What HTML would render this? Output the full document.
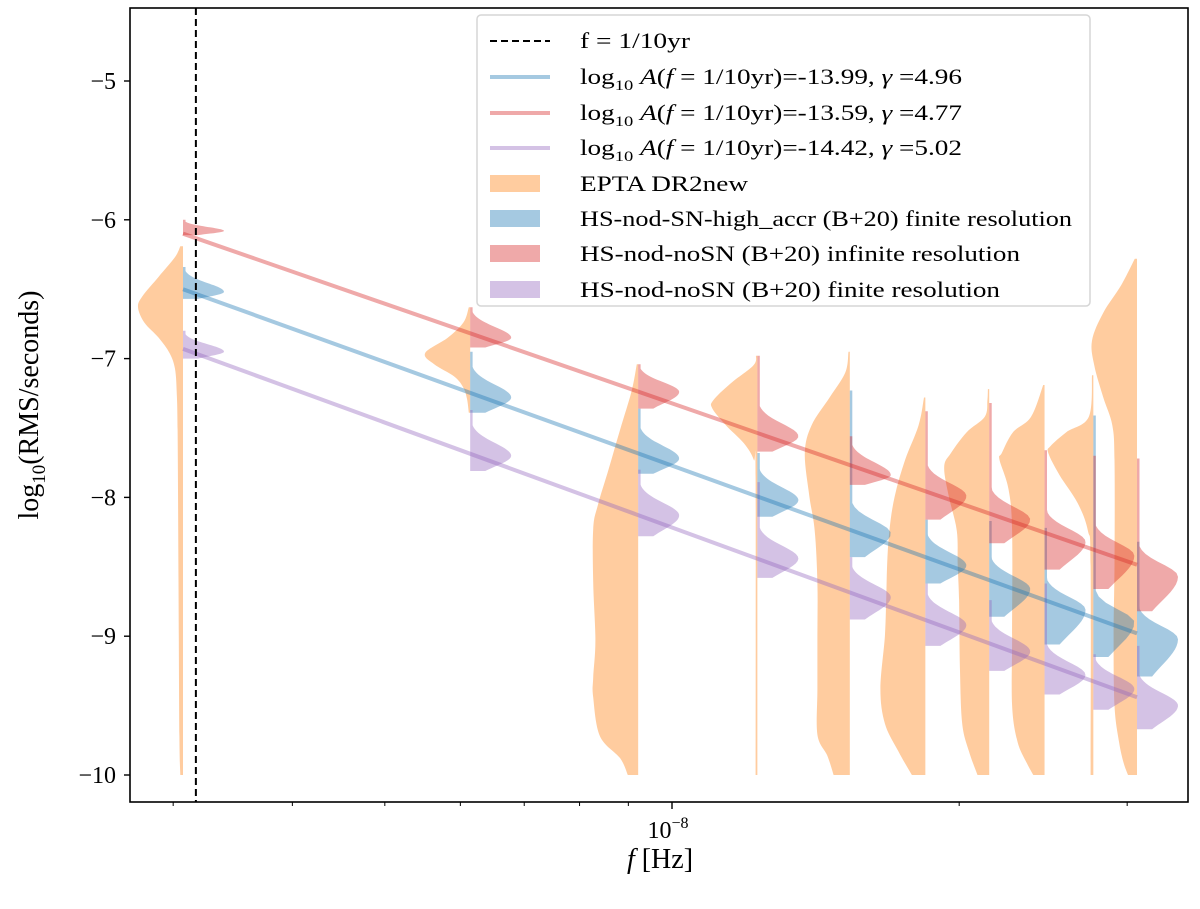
<!DOCTYPE html>
<html><head><meta charset="utf-8">
<style>
html,body{margin:0;padding:0;background:#fff;}
svg{display:block;font-family:"Liberation Serif","DejaVu Serif",serif;}
</style></head>
<body>
<svg id="chart" width="1200" height="909" viewBox="0 0 1200 909" xmlns="http://www.w3.org/2000/svg">
<g id="plot"></g>
<rect x="130" y="8" width="1058" height="794" fill="none" stroke="#000" stroke-width="1.6"/>
<g id="axes"></g>
<text x="660" y="868" font-size="28" text-anchor="middle"><tspan font-style="italic">f</tspan> [Hz]</text>
<text transform="translate(38,405) rotate(-90)" font-size="28" text-anchor="middle">log<tspan font-size="19" dy="7">10</tspan><tspan dy="-7">(RMS/seconds)</tspan></text>
<g id="legend">
<rect x="477" y="15" width="613" height="291" rx="4" fill="#fff" fill-opacity="0.85" stroke="#d6d6d6" stroke-width="1.5"/>
<line x1="490" y1="41" x2="550" y2="41" stroke="#000" stroke-width="2" stroke-dasharray="7,4"/>
<text x="580" y="48" font-size="22" textLength="110" lengthAdjust="spacingAndGlyphs">f = 1/10yr</text>
<line x1="490" y1="77" x2="550" y2="77" stroke="#1f77b4" stroke-opacity="0.4" stroke-width="4"/>
<text x="580" y="84" font-size="22" textLength="382" lengthAdjust="spacingAndGlyphs">log<tspan font-size="15" dy="6">10</tspan><tspan dy="-6"> </tspan><tspan font-style="italic">A</tspan>(<tspan font-style="italic">f</tspan> = 1/10yr)=-13.99, <tspan font-style="italic">γ</tspan> =4.96</text>
<line x1="490" y1="113" x2="550" y2="113" stroke="#d62728" stroke-opacity="0.4" stroke-width="4"/>
<text x="580" y="120" font-size="22" textLength="382" lengthAdjust="spacingAndGlyphs">log<tspan font-size="15" dy="6">10</tspan><tspan dy="-6"> </tspan><tspan font-style="italic">A</tspan>(<tspan font-style="italic">f</tspan> = 1/10yr)=-13.59, <tspan font-style="italic">γ</tspan> =4.77</text>
<line x1="490" y1="148" x2="550" y2="148" stroke="#9467bd" stroke-opacity="0.4" stroke-width="4"/>
<text x="580" y="155" font-size="22" textLength="382" lengthAdjust="spacingAndGlyphs">log<tspan font-size="15" dy="6">10</tspan><tspan dy="-6"> </tspan><tspan font-style="italic">A</tspan>(<tspan font-style="italic">f</tspan> = 1/10yr)=-14.42, <tspan font-style="italic">γ</tspan> =5.02</text>
<rect x="490" y="175" width="50" height="17" fill="#ff7f0e" fill-opacity="0.4"/>
<text x="580" y="191" font-size="22" textLength="168" lengthAdjust="spacingAndGlyphs">EPTA DR2new</text>
<rect x="490" y="210" width="50" height="17" fill="#1f77b4" fill-opacity="0.4"/>
<text x="580" y="226" font-size="22" textLength="492" lengthAdjust="spacingAndGlyphs">HS-nod-SN-high_accr (B+20) finite resolution</text>
<rect x="490" y="245" width="50" height="17" fill="#d62728" fill-opacity="0.4"/>
<text x="580" y="261" font-size="22" textLength="440" lengthAdjust="spacingAndGlyphs">HS-nod-noSN (B+20) infinite resolution</text>
<rect x="490" y="281" width="50" height="17" fill="#9467bd" fill-opacity="0.4"/>
<text x="580" y="297" font-size="22" textLength="420" lengthAdjust="spacingAndGlyphs">HS-nod-noSN (B+20) finite resolution</text>
</g>
</svg>
<script>
// ---- data ----
const invT = 3.072e-9;               // lowest frequency bin 1/T (Hz)
const binIndex = [1,2,3,4,5,6,7,8,9,10];
const freqRef = 3.169e-9;            // f = 1/10yr
const yTicks = [-5,-6,-7,-8,-9,-10];
const yTickLabels = ["−5","−6","−7","−8","−9","−10"];
const xMinorTicks = [3e-9,4e-9,5e-9,6e-9,7e-9,8e-9,9e-9,2e-8,3e-8];
const lineIntercepts = [-6.50,-6.10,-6.93];   // blue, red, purple at f=1/T
const lineGammas = [4.96,4.77,5.02];
const redTops = [-6.00,-6.63,-7.04,-6.98,-7.56,-7.38,-7.32,-7.66,-7.70,-7.72];
const redPeaks = [-6.08,-6.85,-7.24,-7.56,-7.84,-7.99,-8.16,-8.32,-8.42,-8.57];
const redBottoms = [-6.11,-6.92,-7.36,-7.67,-7.91,-8.16,-8.33,-8.52,-8.66,-8.82];
const blueTops = [-6.34,-6.95,-7.36,-7.68,-7.23,-8.16,-8.17,-8.22,-7.41,-8.32];
const bluePeaks = [-6.52,-7.28,-7.72,-8.02,-8.26,-8.49,-8.66,-8.81,-8.90,-9.02];
const blueBottoms = [-6.57,-7.39,-7.83,-8.14,-8.43,-8.62,-8.86,-9.06,-9.15,-9.29];
const purpleTops = [-6.80,-7.37,-7.80,-7.89,-8.43,-8.62,-8.74,-8.62,-9.13,-9.07];
const purplePeaks = [-6.95,-7.70,-8.13,-8.44,-8.72,-8.92,-9.11,-9.28,-9.38,-9.50];
const purpleBottoms = [-7.00,-7.81,-8.28,-8.58,-8.88,-9.07,-9.25,-9.42,-9.53,-9.67];
const eptaProfiles = [
 [[-6.19,0.06],[-6.27,0.18],[-6.41,0.54],[-6.55,0.9],[-6.63,1],[-6.74,0.86],[-6.85,0.54],[-6.96,0.3],[-7.07,0.18],[-7.24,0.14],[-7.51,0.12],[-8.61,0.1],[-9.72,0.08],[-10,0.06]],
 [[-6.63,0.03],[-6.74,0.15],[-6.85,0.5],[-6.96,1],[-7.04,0.8],[-7.13,0.35],[-7.21,0.15],[-7.29,0.07],[-7.39,0.03]],
 [[-7.04,0.03],[-7.24,0.15],[-7.51,0.4],[-7.79,0.65],[-8.06,0.9],[-8.23,1],[-8.61,1],[-9.03,0.95],[-9.30,1],[-9.44,1],[-9.72,0.85],[-9.88,0.4],[-10,0.23]],
 [[-6.98,0.03],[-7.05,0.09],[-7.18,0.6],[-7.30,0.98],[-7.36,1],[-7.48,0.7],[-7.61,0.3],[-7.73,0.08],[-7.86,0.04],[-10,0.04]],
 [[-6.95,0.03],[-7.10,0.1],[-7.28,0.45],[-7.48,0.85],[-7.68,1],[-7.99,0.9],[-8.24,0.78],[-8.62,0.72],[-9.00,0.72],[-9.38,0.72],[-9.71,0.72],[-9.86,0.5],[-10,0.36]],
 [[-7.28,0.03],[-7.48,0.15],[-7.73,0.45],[-7.99,0.68],[-8.24,0.8],[-8.49,0.85],[-8.74,0.87],[-9.00,0.9],[-9.38,1],[-9.63,0.9],[-9.83,0.6],[-10,0.3]],
 [[-7.22,0.03],[-7.30,0.04],[-7.42,0.1],[-7.53,0.5],[-7.68,0.85],[-7.78,1],[-7.99,0.9],[-8.24,0.72],[-8.49,0.7],[-8.74,0.67],[-9.25,0.65],[-9.63,0.6],[-9.83,0.45],[-10,0.26]],
 [[-7.19,0.03],[-7.42,0.3],[-7.53,0.7],[-7.68,0.95],[-7.73,1],[-7.94,0.8],[-8.24,0.72],[-9.00,0.72],[-9.50,0.72],[-9.76,0.6],[-9.91,0.4],[-10,0.25]],
 [[-7.12,0.03],[-7.42,0.1],[-7.53,0.6],[-7.63,0.95],[-7.68,1],[-7.84,0.75],[-8.04,0.35],[-8.24,0.12],[-8.49,0.06],[-10,0.06]],
 [[-6.28,0.05],[-6.47,0.35],[-6.67,0.75],[-6.87,1],[-7.05,0.95],[-7.28,0.75],[-7.48,0.55],[-7.73,0.5],[-8.49,0.5],[-9.00,0.52],[-9.50,0.5],[-9.76,0.4],[-9.91,0.3],[-10,0.2]]
];
// ---- scales ----
const X = f => 183 + 954*Math.log10(f/invT);
const Y = v => 81 + (-5 - v)*138.8;
const NS = "http://www.w3.org/2000/svg";
const plot = document.getElementById('plot');
const axes = document.getElementById('axes');
function mk(tag, attrs, parent){const e=document.createElementNS(NS,tag);for(const k in attrs)e.setAttribute(k,attrs[k]);parent.appendChild(e);return e;}
function smoothPath(pts){
  let d=`M${pts[0][0].toFixed(1)},${pts[0][1].toFixed(1)}`;
  for(let i=0;i<pts.length-1;i++){
    const p0=pts[Math.max(0,i-1)],p1=pts[i],p2=pts[i+1],p3=pts[Math.min(pts.length-1,i+2)];
    const c1=[p1[0]+(p2[0]-p0[0])/6,p1[1]+(p2[1]-p0[1])/6];
    const c2=[p2[0]-(p3[0]-p1[0])/6,p2[1]-(p3[1]-p1[1])/6];
    d+=`C${c1[0].toFixed(1)},${c1[1].toFixed(1)} ${c2[0].toFixed(1)},${c2[1].toFixed(1)} ${p2[0].toFixed(1)},${p2[1].toFixed(1)}`;
  }
  return d;
}
binIndex.forEach((k,i)=>{
  const x0=X(k*invT), prof=eptaProfiles[i];
  const pts=prof.map(p=>[x0-45*p[1],Y(p[0])]);
  const d=smoothPath(pts)+`L${x0},${Y(prof[prof.length-1][0]).toFixed(1)}L${x0},${Y(prof[0][0]).toFixed(1)}Z`;
  const el=mk('path',{d:d,fill:'#ff7f0e','fill-opacity':0.4},plot);
  
  
});
const models=[
 {name:'blue',color:'#1f77b4',tops:blueTops,peaks:bluePeaks,bottoms:blueBottoms},
 {name:'red',color:'#d62728',tops:redTops,peaks:redPeaks,bottoms:redBottoms},
 {name:'purple',color:'#9467bd',tops:purpleTops,peaks:purplePeaks,bottoms:purpleBottoms}
];
models.forEach(m=>{
  binIndex.forEach((k,i)=>{
    const x0=X(k*invT), t=m.tops[i], p=m.peaks[i], b=m.bottoms[i];
    const s1=Math.max(0.02,Math.min((t-p)*0.5,0.13)), s2=Math.max(0.02,(p-b)*1.0);
    const pts=[]; const N=40;
    for(let j=0;j<=N;j++){
      const v=t+(b-t)*j/N;
      let w = v>=p ? Math.exp(-Math.pow((v-p)/s1,2)) : Math.exp(-Math.pow((p-v)/s2,2));
      w=Math.max(w,0.06);
      pts.push((x0+41*w).toFixed(1)+','+Y(v).toFixed(1));
    }
    const d='M'+x0+','+Y(t).toFixed(1)+'L'+pts.join('L')+'L'+x0+','+Y(b).toFixed(1)+'Z';
    const el=mk('path',{d:d,fill:m.color,'fill-opacity':0.4},plot);
    
    
  });
});
models.forEach((m,i)=>{
  const f1=binIndex[0]*invT, f2=binIndex[binIndex.length-1]*invT;
  const v1=lineIntercepts[i], v2=v1-(lineGammas[i]/2)*Math.log10(f2/f1);
  const el=mk('line',{x1:X(f1),y1:Y(v1),x2:X(f2),y2:Y(v2),stroke:m.color,'stroke-opacity':0.4,'stroke-width':4},plot);
  
  
});
{
  const el=mk('line',{x1:X(freqRef),y1:8,x2:X(freqRef),y2:802,stroke:'#000','stroke-width':2,'stroke-dasharray':'7,4'},plot);
  
  
}
yTicks.forEach((v,i)=>{
  const t=mk('line',{x1:124,x2:130,y1:Y(v),y2:Y(v),stroke:'#000','stroke-width':1.4},axes);
  
  
  const l=mk('text',{x:116,y:Y(v)+8,'font-size':24,'text-anchor':'end'},axes);
  l.textContent=yTickLabels[i];
  
  
});
{
  const t=mk('line',{x1:X(1e-8),x2:X(1e-8),y1:802,y2:809,stroke:'#000','stroke-width':1.4},axes);
  
  
  const l=mk('text',{x:X(1e-8)-4,y:838,'font-size':24,'text-anchor':'middle'},axes);
  l.innerHTML='10<tspan font-size="16" dy="-10">−8</tspan>';
  
  
}
xMinorTicks.forEach(f=>{
  const t=mk('line',{x1:X(f),x2:X(f),y1:802,y2:806,stroke:'#000','stroke-width':1},axes);
  
  
});
</script>
</body></html>
